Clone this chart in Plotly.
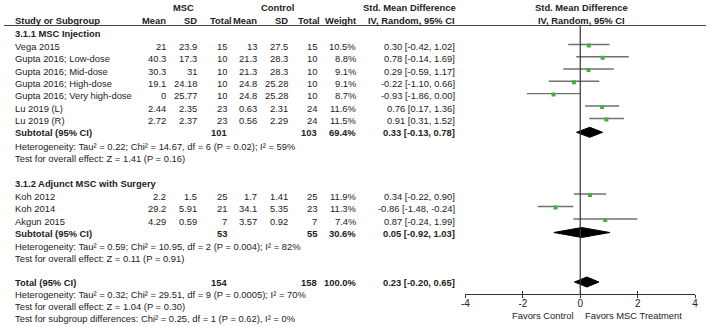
import plotly.graph_objects as go

# ---------------- data ----------------
studies = ["Vega 2015", "Gupta 2016; Low-dose", "Gupta 2016; Mid-dose", "Gupta 2016; High-dose",
           "Gupta 2016; Very high-dose", "Lu 2019 (L)", "Lu 2019 (R)",
           "Koh 2012", "Koh 2014", "Akgun 2015"]
group = [1, 1, 1, 1, 1, 1, 1, 2, 2, 2]
msc_mean = ["21", "40.3", "30.3", "19.1", "0", "2.44", "2.72", "2.2", "29.2", "4.29"]
msc_sd = ["23.9", "17.3", "31", "24.18", "25.77", "2.35", "2.37", "1.5", "5.91", "0.59"]
msc_n = [15, 10, 10, 10, 10, 23, 23, 25, 21, 7]
ctl_mean = ["13", "21.3", "21.3", "24.8", "24.8", "0.63", "0.56", "1.7", "34.1", "3.57"]
ctl_sd = ["27.5", "28.3", "28.3", "25.28", "25.28", "2.31", "2.29", "1.41", "5.35", "0.92"]
ctl_n = [15, 10, 10, 10, 10, 24, 24, 25, 23, 7]
weight = [10.5, 8.8, 9.1, 9.1, 8.7, 11.6, 11.5, 11.9, 11.3, 7.4]
smd = [0.30, 0.78, 0.29, -0.22, -0.93, 0.76, 0.91, 0.34, -0.86, 0.87]
ci_lo = [-0.42, -0.14, -0.59, -1.10, -1.86, 0.17, 0.31, -0.22, -1.48, -0.24]
ci_hi = [1.02, 1.69, 1.17, 0.66, 0.00, 1.36, 1.52, 0.90, -0.24, 1.99]

group_titles = ["3.1.1 MSC Injection", "3.1.2 Adjunct MSC with Surgery"]
sub_msc_n = [101, 53]
sub_ctl_n = [103, 55]
sub_weight = [69.4, 30.6]
sub_smd = [0.33, 0.05]
sub_lo = [-0.13, -0.92]
sub_hi = [0.78, 1.03]
sub_het = ["Heterogeneity: Tau\u00b2 = 0.22; Chi\u00b2 = 14.67, df = 6 (P = 0.02); I\u00b2 = 59%",
           "Heterogeneity: Tau\u00b2 = 0.59; Chi\u00b2 = 10.95, df = 2 (P = 0.004); I\u00b2 = 82%"]
sub_test = ["Test for overall effect: Z = 1.41 (P = 0.16)",
            "Test for overall effect: Z = 0.11 (P = 0.91)"]

tot_msc_n = 154
tot_ctl_n = 158
tot_weight = 100.0
tot_smd = 0.23
tot_lo = -0.20
tot_hi = 0.65
tot_lines = ["Heterogeneity: Tau\u00b2 = 0.32; Chi\u00b2 = 29.51, df = 9 (P = 0.0005); I\u00b2 = 70%",
             "Test for overall effect: Z = 1.04 (P = 0.30)",
             "Test for subgroup differences: Chi\u00b2 = 0.25, df = 1 (P = 0.62), I\u00b2 = 0%"]

axis_ticks = [-4, -2, 0, 2, 4]
favors = ["Favors Control", "Favors MSC Treatment"]

# ---------------- layout (pixel rows) ----------------
W, H = 709, 327
AXIS_Y = 294
study_y = [46.5, 58.8, 71, 83.3, 95.6, 108, 120.5, 196, 208.5, 221]
title_y = [33, 183]
subtot_y = [132.8, 233]
het_y = [146, 246]
test_y = [158.5, 258.5]
total_y = 282
tot_lines_y = [294.5, 306.5, 318]

FONT = "Liberation Sans, Arial, sans-serif"
FS = 9.4
TXT = "#222222"

col_study = 9
col_mmean, col_msd, col_mn = 166, 197, 227
col_cmean, col_csd, col_cn = 258, 289, 318
col_w = 358
col_ci = 458

fig = go.Figure()

# CI lines
lx, ly = [], []
for i in range(len(studies)):
    yy = study_y[i] - 2
    lx += [ci_lo[i], ci_hi[i], None]
    ly += [yy, yy, None]
fig.add_trace(go.Scatter(x=lx, y=ly, mode="lines", line=dict(color="#707070", width=1.4),
                         hoverinfo="skip", showlegend=False, xaxis="x", yaxis="y"))
fig.add_trace(go.Scatter(x=smd, y=[v - 1 for v in study_y], mode="markers",
                         marker=dict(symbol="square", size=4, color="#3cb43c"),
                         showlegend=False, xaxis="x", yaxis="y"))

# diamonds
def diamond(est, lo, hi, yc):
    fig.add_trace(go.Scatter(x=[lo, est, hi, est, lo], y=[yc, yc - 5, yc, yc + 5, yc],
                             mode="lines", fill="toself", fillcolor="#000000",
                             line=dict(color="#000000", width=1), showlegend=False,
                             hoverinfo="skip", xaxis="x", yaxis="y"))

for g in range(2):
    diamond(sub_smd[g], sub_lo[g], sub_hi[g], subtot_y[g] - 0.5)
diamond(tot_smd, tot_lo, tot_hi, total_y)

# invisible trace so the upper tick axis is drawn
fig.add_trace(go.Scatter(x=[0], y=[AXIS_Y], mode="markers", marker=dict(opacity=0),
                         hoverinfo="skip", showlegend=False, xaxis="x3", yaxis="y"))

ann = []
def t(x, y, s, anchor="left", bold=False, size=FS, color=TXT):
    ann.append(dict(x=x, y=y, xref="x2", yref="y2", text=("<b>%s</b>" % s) if bold else s,
                    showarrow=False, xanchor=anchor, yanchor="middle",
                    font=dict(family=FONT, size=size, color=color)))

# headers
t(181, 7, "MSC", "center", True)
t(276, 7, "Control", "center", True)
t(410, 7, "Std. Mean Difference", "center", True)
t(583, 7, "Std. Mean Difference", "center", True)
t(col_study, 20, "Study or Subgroup", bold=True)
t(col_mmean, 20, "Mean", "right", True)
t(col_msd, 20, "SD", "right", True)
t(232, 20, "Total", "right", True)
t(col_cmean, 20, "Mean", "right", True)
t(col_csd, 20, "SD", "right", True)
t(321, 20, "Total", "right", True)
t(col_w, 20, "Weight", "right", True)
t(col_ci, 20, "IV, Random, 95% CI", "right", True)
t(583, 20, "IV, Random, 95% CI", "center", True)

for g in range(2):
    t(col_study, title_y[g], group_titles[g], bold=True)
for i in range(len(studies)):
    y = study_y[i]
    t(col_study, y, studies[i])
    t(col_mmean, y, msc_mean[i], "right")
    t(col_msd, y, msc_sd[i], "right")
    t(col_mn, y, str(msc_n[i]), "right")
    t(col_cmean, y, ctl_mean[i], "right")
    t(col_csd, y, ctl_sd[i], "right")
    t(col_cn, y, str(ctl_n[i]), "right")
    t(col_w, y, "%.1f%%" % weight[i], "right")
    t(col_ci, y, "%.2f [%.2f, %.2f]" % (smd[i], ci_lo[i], ci_hi[i]), "right")
for g in range(2):
    y = subtot_y[g]
    t(col_study, y, "Subtotal (95% CI)", bold=True)
    t(col_mn, y, str(sub_msc_n[g]), "right", True)
    t(col_cn, y, str(sub_ctl_n[g]), "right", True)
    t(col_w, y, "%.1f%%" % sub_weight[g], "right", True)
    t(col_ci, y, "%.2f [%.2f, %.2f]" % (sub_smd[g], sub_lo[g], sub_hi[g]), "right", True)
    t(col_study, het_y[g], sub_het[g])
    t(col_study, test_y[g], sub_test[g])
t(col_study, total_y, "Total (95% CI)", bold=True)
t(col_mn, total_y, str(tot_msc_n), "right", True)
t(col_cn, total_y, str(tot_ctl_n), "right", True)
t(col_w, total_y, "%.1f%%" % tot_weight, "right", True)
t(col_ci, total_y, "%.2f [%.2f, %.2f]" % (tot_smd, tot_lo, tot_hi), "right", True)
for s, y in zip(tot_lines, tot_lines_y):
    t(col_study, y, s)
t(577, 315, favors[0], "right")
t(585, 315, favors[1], "left")

x0 = 466 / W
x1 = 698 / W
fig.update_layout(
    width=W, height=H, margin=dict(l=0, r=0, t=0, b=0, pad=0),
    paper_bgcolor="white", plot_bgcolor="rgba(0,0,0,0)",
    annotations=ann,
    xaxis=dict(domain=[x0, x1], range=[-4, 4], tickvals=axis_ticks,
               ticktext=[str(v) for v in axis_ticks], showgrid=False, zeroline=False,
               showline=True, linecolor="#333333", linewidth=1, ticks="outside",
               ticklen=3, tickcolor="#333333", tickwidth=1, ticklabelstandoff=-3,
               tickfont=dict(family=FONT, size=10, color=TXT),
               anchor="y", fixedrange=True),
    xaxis3=dict(overlaying="x", range=[-4, 4], tickvals=axis_ticks, showticklabels=False,
                showgrid=False, zeroline=False, showline=False, ticks="inside", ticklen=3,
                tickcolor="#333333", tickwidth=1, anchor="y", side="bottom", fixedrange=True),
    yaxis=dict(domain=[(H - AXIS_Y) / H, 1], range=[AXIS_Y, 0], visible=False,
               fixedrange=True, anchor="x"),
    xaxis2=dict(domain=[0, 1], range=[0, W], visible=False, anchor="y2", fixedrange=True),
    yaxis2=dict(domain=[0, 1], range=[H, 0], visible=False, anchor="x2", fixedrange=True),
    shapes=[
        dict(type="line", xref="paper", yref="y2", x0=0, x1=1, y0=25.5, y1=25.5,
             line=dict(color="#444444", width=1)),
        dict(type="line", xref="x", yref="y", x0=0, x1=0, y0=25.5, y1=AXIS_Y,
             line=dict(color="#333333", width=1.2)),
    ],
)
fig.write_html("out.html")
